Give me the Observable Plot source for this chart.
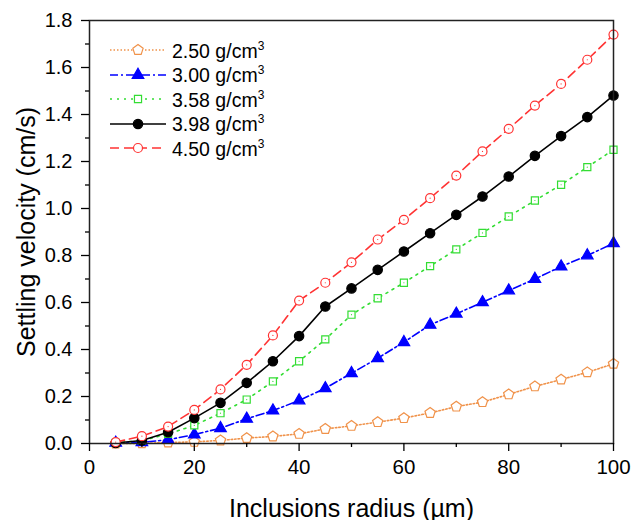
<!DOCTYPE html>
<html>
<head>
<meta charset="utf-8">
<script src="https://cdn.jsdelivr.net/npm/d3@7"></script>
<script src="https://cdn.jsdelivr.net/npm/@observablehq/plot@0.6"></script>
<style>
  body { margin: 0; background: #fff; font-family: "Liberation Sans", Arial, sans-serif; }
  #wrap { position: relative; width: 643px; height: 520px; }
  #legend { position: absolute; left: 108px; top: 38px; background: #fff; }
  .row { display: flex; align-items: center; height: 24.5px; }
  .row span { font-size: 19.5px; color: #000; margin-left: 4px; line-height: 1; }
  .row sup { font-size: 12px; vertical-align: 8px; }
  g[aria-label="x-axis label"] text, g[aria-label="y-axis label"] text { font-size: 25px; }
</style>
</head>
<body>
<div id="wrap"><div id="chart"></div><div id="legend"></div></div>
<script>
const radius = [5, 10, 15, 20, 25, 30, 35, 40, 45, 50, 55, 60, 65, 70, 75, 80, 85, 90, 95, 100];
const v250 = [0, 0.001, 0.004, 0.007, 0.013, 0.023, 0.03, 0.041, 0.062, 0.075, 0.091, 0.108, 0.13, 0.157, 0.176, 0.209, 0.243, 0.272, 0.303, 0.339];
const v300 = [0.003, 0.005, 0.016, 0.038, 0.065, 0.105, 0.14, 0.183, 0.235, 0.299, 0.363, 0.431, 0.505, 0.552, 0.601, 0.651, 0.7, 0.753, 0.8, 0.852];
const v358 = [0.003, 0.012, 0.041, 0.077, 0.129, 0.187, 0.264, 0.35, 0.443, 0.548, 0.618, 0.684, 0.755, 0.826, 0.896, 0.966, 1.034, 1.101, 1.176, 1.25];
const v398 = [0.002, 0.013, 0.048, 0.108, 0.173, 0.258, 0.35, 0.457, 0.583, 0.66, 0.739, 0.817, 0.895, 0.973, 1.051, 1.136, 1.224, 1.308, 1.389, 1.481];
const v450 = [0.006, 0.031, 0.072, 0.143, 0.23, 0.335, 0.46, 0.608, 0.684, 0.771, 0.868, 0.952, 1.044, 1.14, 1.243, 1.339, 1.438, 1.53, 1.633, 1.74];
const seriesNames = ["2.50", "3.00", "3.58", "3.98", "4.50"];
const xTicks = [0, 20, 40, 60, 80, 100];
const xMinor = [10, 30, 50, 70, 90];
const yTicks = [0, 0.2, 0.4, 0.6, 0.8, 1.0, 1.2, 1.4, 1.6, 1.8];
const yMinor = [0.1, 0.3, 0.5, 0.7, 0.9, 1.1, 1.3, 1.5, 1.7];

const pentagon = {
  draw(context, size) {
    const R = Math.sqrt(size / 2.378);
    for (let i = 0; i < 5; i++) {
      const a = -Math.PI / 2 + i * 2 * Math.PI / 5;
      const px = R * Math.cos(a), py = R * Math.sin(a);
      if (i === 0) context.moveTo(px, py); else context.lineTo(px, py);
    }
    context.closePath();
  }
};

const styles = [
  {vals: v250, color: "#f0924a", dash: "1.5,2", symbol: pentagon, r: 4.7, fill: "white", sw: 1.2, center: false},
  {vals: v300, color: "#0000ff", dash: "8,3,2,3", symbol: "triangle", r: 4.3, fill: "#0000ff", sw: 1.2, center: false},
  {vals: v358, color: "#33dd33", dash: "2,5", symbol: "square", r: 4.0, fill: "white", sw: 1.2, center: true},
  {vals: v398, color: "#000000", dash: null, symbol: "circle", r: 4.7, fill: "#000000", sw: 1.2, center: false},
  {vals: v450, color: "#ff3333", dash: "9,5", symbol: "circle", r: 4.5, fill: "white", sw: 1.2, center: true}
];

const marks = [];
styles.forEach((s, k) => {
  const data = radius.map((x, i) => ({x, y: s.vals[i]}));
  marks.push(Plot.line(data, {x: "x", y: "y", stroke: s.color, strokeWidth: 1.6, strokeDasharray: s.dash || undefined}));
  marks.push(Plot.dot(data, {x: "x", y: "y", symbol: s.symbol, r: s.r, stroke: s.color, fill: s.fill, strokeWidth: s.sw}));
  if (s.center) marks.push(Plot.dot(data, {x: "x", y: "y", r: 0.6, fill: s.color, stroke: "none"}));
});

const chart = Plot.plot({
  width: 643,
  height: 520,
  marginLeft: 89,
  marginRight: 30,
  marginTop: 20,
  marginBottom: 77,
  style: {fontFamily: "'Liberation Sans', Arial, sans-serif", color: "#000", background: "transparent"},
  x: {domain: [0, 100]},
  y: {domain: [0, 1.8]},
  marks: [
    ...marks,
    Plot.frame({stroke: "#222", strokeWidth: 1.5}),
    Plot.axisX(xTicks, {tickSize: 8, tickPadding: 8, fontSize: 20.5, strokeWidth: 1.3,
      label: "Inclusions radius (µm)", labelAnchor: "center", labelArrow: "none", labelOffset: 73}),
    Plot.axisX(xMinor, {tickSize: 4, tickFormat: () => "", strokeWidth: 1.3, label: null}),
    Plot.axisY(yTicks, {tickSize: 8, tickPadding: 9, fontSize: 20, strokeWidth: 1.3, tickFormat: d3.format(".1f"),
      label: "Settling velocity (cm/s)", labelAnchor: "center", labelArrow: "none", labelOffset: 72}),
    Plot.axisY(yMinor, {tickSize: 4, tickFormat: () => "", strokeWidth: 1.3, label: null})
  ]
});
document.getElementById("chart").appendChild(chart);

// legend
const legend = document.getElementById("legend");
styles.forEach((s, k) => {
  const row = document.createElement("div");
  row.className = "row";
  const svg = d3.create("svg").attr("width", 60).attr("height", 24);
  svg.append("line").attr("x1", 2).attr("x2", 58).attr("y1", 12).attr("y2", 12)
    .attr("stroke", s.color).attr("stroke-width", 1.6).attr("stroke-dasharray", s.dash);
  const symType = s.symbol === "triangle" ? d3.symbolTriangle : s.symbol === "square" ? d3.symbolSquare : s.symbol === "circle" ? d3.symbolCircle : s.symbol;
  svg.append("path").attr("transform", "translate(30,12)")
    .attr("d", d3.symbol(symType, Math.PI * s.r * s.r)())
    .attr("fill", s.fill).attr("stroke", s.color).attr("stroke-width", s.sw);
  row.appendChild(svg.node());
  const span = document.createElement("span");
  span.innerHTML = seriesNames[k] + " g/cm<sup>3</sup>";
  row.appendChild(span);
  legend.appendChild(row);
});
</script>
</body>
</html>
